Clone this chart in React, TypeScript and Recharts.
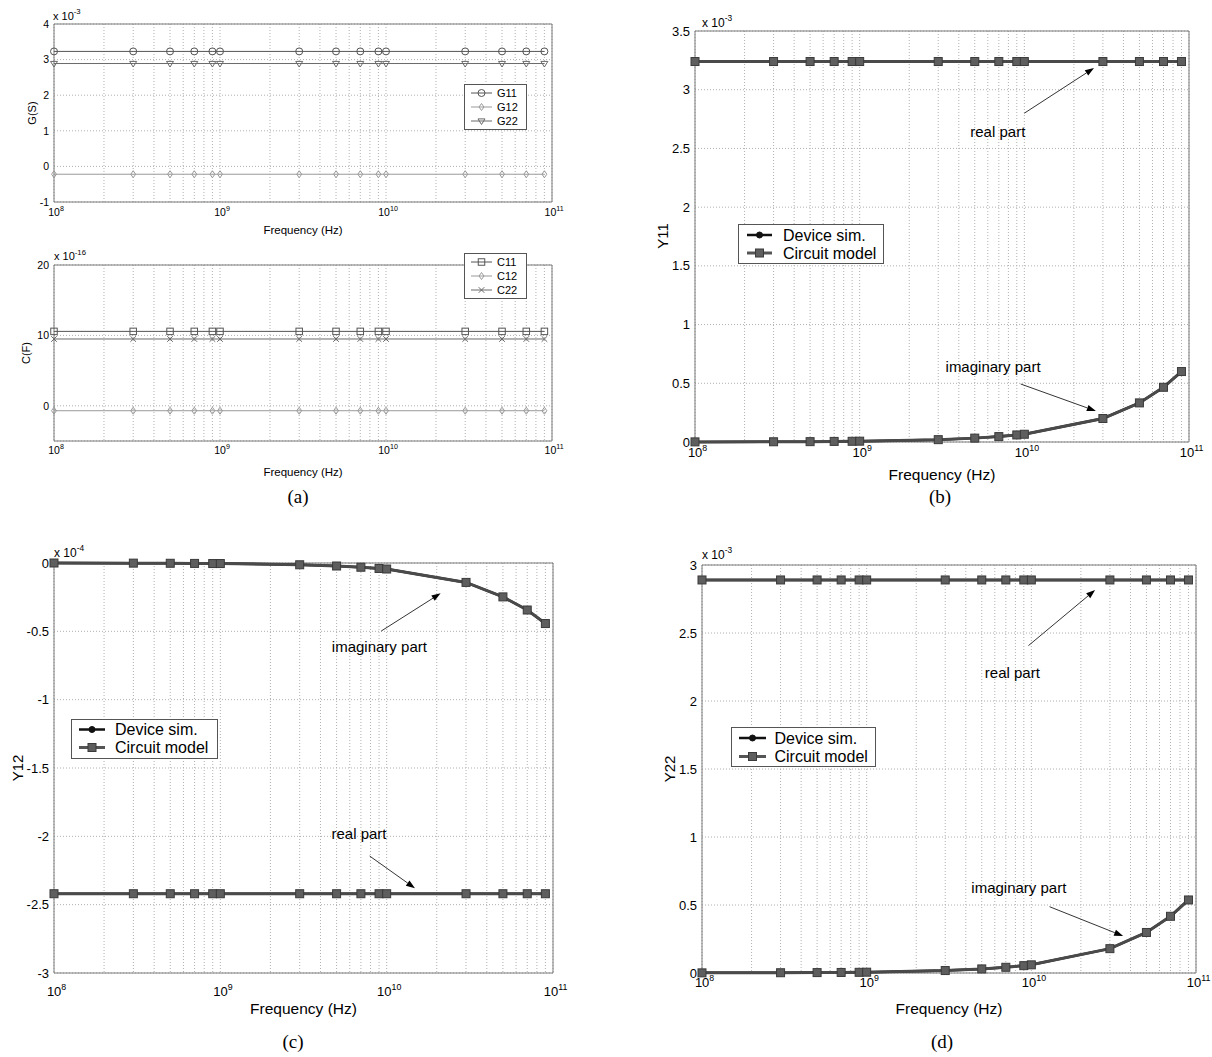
import React from "react"
import {
  LineChart,
  Line,
  XAxis,
  YAxis,
  CartesianGrid,
  ReferenceArea,
  ReferenceLine,
  ReferenceDot,
  Legend,
} from "recharts"

const FONT = "'Liberation Sans', Arial, Helvetica, sans-serif"
const SERIF = "'Liberation Serif', 'Times New Roman', serif"

// sweep frequencies (Hz)
const freqs = [1e8, 3e8, 5e8, 7e8, 9e8, 1e9, 3e9, 5e9, 7e9, 9e9, 1e10, 3e10, 5e10, 7e10, 9e10]

// (a) conductances, x 1e-3 S
const g11 = [3.23, 3.23, 3.23, 3.23, 3.23, 3.23, 3.23, 3.23, 3.23, 3.23, 3.23, 3.23, 3.23, 3.23, 3.23]
const g12 = [-0.22, -0.22, -0.22, -0.22, -0.22, -0.22, -0.22, -0.22, -0.22, -0.22, -0.22, -0.22, -0.22, -0.22, -0.22]
const g22 = [2.89, 2.89, 2.89, 2.89, 2.89, 2.89, 2.89, 2.89, 2.89, 2.89, 2.89, 2.89, 2.89, 2.89, 2.89]

// (a) capacitances, x 1e-16 F
const c11 = [10.57, 10.57, 10.57, 10.57, 10.57, 10.57, 10.57, 10.57, 10.57, 10.57, 10.57, 10.57, 10.57, 10.57, 10.57]
const c12 = [-0.7, -0.7, -0.7, -0.7, -0.7, -0.7, -0.7, -0.7, -0.7, -0.7, -0.7, -0.7, -0.7, -0.7, -0.7]
const c22 = [9.49, 9.49, 9.49, 9.49, 9.49, 9.49, 9.49, 9.49, 9.49, 9.49, 9.49, 9.49, 9.49, 9.49, 9.49]

// (b) Y11, x 1e-3
const y11Re = [3.24, 3.24, 3.24, 3.24, 3.24, 3.24, 3.24, 3.24, 3.24, 3.24, 3.24, 3.24, 3.24, 3.24, 3.24]
const y11Im = [0.001, 0.002, 0.003, 0.005, 0.006, 0.007, 0.02, 0.033, 0.046, 0.06, 0.066, 0.2, 0.333, 0.466, 0.6]

// (c) Y12, x 1e-4
const y12Re = [-2.42, -2.42, -2.42, -2.42, -2.42, -2.42, -2.42, -2.42, -2.42, -2.42, -2.42, -2.42, -2.42, -2.42, -2.42]
const y12Im = [0, -0.001, -0.002, -0.003, -0.004, -0.004, -0.013, -0.022, -0.031, -0.04, -0.044, -0.142, -0.248, -0.344, -0.443]

// (d) Y22, x 1e-3
const y22Re = [2.89, 2.89, 2.89, 2.89, 2.89, 2.89, 2.89, 2.89, 2.89, 2.89, 2.89, 2.89, 2.89, 2.89, 2.89]
const y22Im = [0.001, 0.002, 0.003, 0.004, 0.005, 0.006, 0.018, 0.03, 0.042, 0.054, 0.06, 0.179, 0.298, 0.417, 0.537]

// log axis ticks: 1..9 per decade
const decades = [1e8, 1e9, 1e10]
const mults = [1, 2, 3, 4, 5, 6, 7, 8, 9]
const freqTicks = [...decades.flatMap((d) => mults.map((m) => m * d)), 1e11]

const gTicks = [-1, 0, 1, 2, 3, 4]
const cTicks = [0, 10, 20]
const y11Ticks = [0, 0.5, 1, 1.5, 2, 2.5, 3, 3.5]
const y12Ticks = [-3, -2.5, -2, -1.5, -1, -0.5, 0]
const y22Ticks = [0, 0.5, 1, 1.5, 2, 2.5, 3]

type MarkerKind = "circle" | "diamond" | "triDown" | "square" | "cross"
type MarkerStyle = { kind: MarkerKind; size: number; fill: string; edge: string }

function Marker({ kind, x, y, size, fill, edge }: MarkerStyle & { x: number; y: number }) {
  const s = size / 2
  if (kind === "circle") return <circle cx={x} cy={y} r={s} fill={fill} stroke={edge} />
  if (kind === "square")
    return <rect x={x - s} y={y - s} width={size} height={size} fill={fill} stroke={edge} />
  if (kind === "diamond")
    return (
      <polygon
        points={`${x},${y - s} ${x + s * 0.7},${y} ${x},${y + s} ${x - s * 0.7},${y}`}
        fill={fill}
        stroke={edge}
      />
    )
  if (kind === "triDown")
    return (
      <polygon points={`${x - s},${y - s * 0.6} ${x + s},${y - s * 0.6} ${x},${y + s}`} fill={fill} stroke={edge} />
    )
  const k = s * 0.8
  return (
    <path
      d={`M${x - k},${y - k}L${x + k},${y + k}M${x - k},${y + k}L${x + k},${y - k}`}
      stroke={edge}
      fill="none"
    />
  )
}

const dotOf = (m: MarkerStyle) => (p: any) =>
  p.cx == null ? <g key={`n${p.index}`} /> : <Marker key={`d${p.index}`} {...m} x={p.cx} y={p.cy} />

type LegendItem = { label: string; color: string; width: number; marker: MarkerStyle }
type LegendSpec = {
  x: number
  y: number
  w: number
  h: number
  font: number
  rows: number[]
  icon: [number, number]
  text: number
  items: LegendItem[]
}

function LegendBox({ spec }: { spec: LegendSpec }) {
  const [i0, i1] = spec.icon
  return (
    <svg width={spec.w} height={spec.h} style={{ display: "block" }}>
      <rect x={0.5} y={0.5} width={spec.w - 1} height={spec.h - 1} fill="#fff" stroke="#555" />
      {spec.items.map((it, i) => {
        const cy = spec.rows[i]
        return (
          <g key={it.label}>
            <line x1={i0} x2={i1} y1={cy} y2={cy} stroke={it.color} strokeWidth={it.width} />
            <Marker {...it.marker} x={(i0 + i1) / 2} y={cy} />
            <text x={spec.text} y={cy + spec.font * 0.36} fontSize={spec.font} fontFamily={FONT} fill="#000">
              {it.label}
            </text>
          </g>
        )
      })}
    </svg>
  )
}

type Note = { text: string; tx: number; ty: number; x1: number; y1: number; x2: number; y2: number }

const Arrow = (p: any) => {
  const { x1, y1, x2, y2 } = p
  const a = Math.atan2(y2 - y1, x2 - x1)
  const L = 9
  const W = 3.2
  const bx = x2 - L * Math.cos(a)
  const by = y2 - L * Math.sin(a)
  const px = -Math.sin(a) * W
  const py = Math.cos(a) * W
  return (
    <g>
      <line x1={x1} y1={y1} x2={bx} y2={by} stroke="#000" strokeWidth={0.8} />
      <polygon points={`${x2},${y2} ${bx + px},${by + py} ${bx - px},${by - py}`} fill="#000" />
    </g>
  )
}

function FreqTick(p: any) {
  const { x, y, payload, fontSize, below } = p
  const v = payload.value
  const e = Math.round(Math.log10(v))
  if (Math.abs(v / Math.pow(10, e) - 1) > 1e-6) return <g />
  return (
    <text x={x + fontSize * 0.2} y={y + below} textAnchor="middle" fontSize={fontSize} fontFamily={FONT} fill="#000">
      10
      <tspan dy={-fontSize * 0.45} fontSize={fontSize * 0.68}>
        {e}
      </tspan>
    </text>
  )
}

type Rect = { x: number; y: number; w: number; h: number }
type PlotProps = {
  rect: Rect
  data: any[]
  yDomain: [number, number]
  yTicks: number[]
  tickFont: number
  titleFont: number
  tickBelow: number
  titleBelow: number
  legend: LegendSpec
  notes: Note[]
  children: React.ReactNode
}

const ML = 70
const MT = 20
const MR = 30
const XH = 60

function Plot({ rect, data, yDomain, yTicks, tickFont, titleFont, tickBelow, titleBelow, legend, notes, children }: PlotProps) {
  const left = rect.x - ML
  const top = rect.y - MT
  return (
    <div style={{ position: "absolute", left, top }}>
      <LineChart
        width={rect.w + ML + MR}
        height={rect.h + MT + XH}
        data={data}
        margin={{ top: MT, right: MR, bottom: 0, left: 0 }}
      >
        <CartesianGrid stroke="#b0b0b0" strokeDasharray="1 2" />
        <XAxis
          dataKey="f"
          type="number"
          scale="log"
          domain={[1e8, 1e11]}
          ticks={freqTicks}
          interval={0}
          height={XH}
          axisLine={false}
          tickLine={false}
          tickSize={0}
          tickMargin={0}
          tick={(p: any) => <FreqTick {...p} fontSize={tickFont} below={tickBelow} />}
          label={{
            value: "Frequency (Hz)",
            position: "insideBottom",
            offset: XH - titleBelow,
            fontSize: titleFont,
            fill: "#000",
            fontFamily: FONT,
          }}
        />
        <YAxis
          type="number"
          domain={yDomain}
          ticks={yTicks}
          interval={0}
          width={ML}
          axisLine={false}
          tickLine={false}
          tickSize={0}
          tickMargin={5}
          tick={{ fontSize: tickFont, fill: "#000", fontFamily: FONT }}
        />
        <ReferenceArea x1={1e8} x2={1e11} y1={yDomain[0]} y2={yDomain[1]} fill="none" stroke="#7a7a7a" />
        {children}
        {notes.map((n, i) => (
          <ReferenceLine
            key={`a${i}`}
            segment={[
              { x: n.x1, y: n.y1 },
              { x: n.x2, y: n.y2 },
            ]}
            shape={Arrow}
          />
        ))}
        {notes.map((n, i) => (
          <ReferenceDot
            key={`t${i}`}
            x={n.tx}
            y={n.ty}
            r={0}
            fill="none"
            stroke="none"
            label={{ value: n.text, position: "center", fontSize: 15, fill: "#000", fontFamily: FONT }}
          />
        ))}
        <Legend
          layout="vertical"
          align="center"
          verticalAlign="middle"
          wrapperStyle={{ left: legend.x - left, top: legend.y - top, width: legend.w, height: legend.h }}
          content={() => <LegendBox spec={legend} />}
        />
      </LineChart>
    </div>
  )
}

// marker styles
const gm = (kind: MarkerKind, c: string, size = 7): MarkerStyle => ({ kind, size, fill: "none", edge: c })
const devMarker: MarkerStyle = { kind: "circle", size: 6, fill: "#111", edge: "#111" }
const cirMarker: MarkerStyle = { kind: "square", size: 8, fill: "#5e5e5e", edge: "#3a3a3a" }

const gItems: LegendItem[] = [
  { label: "G11", color: "#555", width: 1, marker: gm("circle", "#555") },
  { label: "G12", color: "#999", width: 1, marker: gm("diamond", "#999") },
  { label: "G22", color: "#6a6a6a", width: 1, marker: gm("triDown", "#6a6a6a") },
]
const cItems: LegendItem[] = [
  { label: "C11", color: "#555", width: 1, marker: gm("square", "#555", 6.5) },
  { label: "C12", color: "#999", width: 1, marker: gm("diamond", "#999") },
  { label: "C22", color: "#6a6a6a", width: 1, marker: gm("cross", "#6a6a6a") },
]
const yItems: LegendItem[] = [
  { label: "Device sim.", color: "#111", width: 2.5, marker: devMarker },
  { label: "Circuit model", color: "#555", width: 3, marker: cirMarker },
]

const gData = freqs.map((f, i) => ({ f, g11: g11[i], g12: g12[i], g22: g22[i] }))
const cData = freqs.map((f, i) => ({ f, c11: c11[i], c12: c12[i], c22: c22[i] }))
// the circuit model overlays the device simulation exactly, so both read the same values
const yData = (re: number[], im: number[]) =>
  freqs.map((f, i) => ({ f, reDev: re[i], imDev: im[i], reCir: re[i], imCir: im[i] }))

const notesB: Note[] = [
  { text: "real part", tx: 6.9e9, ty: 2.64, x1: 1.0e10, y1: 2.8, x2: 2.65e10, y2: 3.185 },
  { text: "imaginary part", tx: 6.46e9, ty: 0.641, x1: 9.5e9, y1: 0.494, x2: 2.72e10, y2: 0.264 },
]
const notesC: Note[] = [
  { text: "imaginary part", tx: 9.04e9, ty: -0.612, x1: 9.27e9, y1: -0.498, x2: 2.11e10, y2: -0.222 },
  { text: "real part", tx: 6.82e9, ty: -1.978, x1: 7.9e9, y1: -2.144, x2: 1.48e10, y2: -2.38 },
]
const notesD: Note[] = [
  { text: "real part", tx: 7.67e9, ty: 2.211, x1: 9.6e9, y1: 2.407, x2: 2.44e10, y2: 2.816 },
  { text: "imaginary part", tx: 8.4e9, ty: 0.627, x1: 1.29e10, y1: 0.4875, x2: 3.61e10, y2: 0.272 },
]

const aLines = (keys: string[], items: LegendItem[]) =>
  keys.map((k, i) => (
    <Line
      key={k}
      dataKey={k}
      type="linear"
      stroke={items[i].color}
      strokeWidth={1}
      dot={dotOf(items[i].marker)}
      activeDot={false}
      isAnimationActive={false}
    />
  ))

const yLines = () => [
  <Line key="reDev" dataKey="reDev" type="linear" stroke="#111" strokeWidth={2.5} dot={dotOf(devMarker)} activeDot={false} isAnimationActive={false} />,
  <Line key="imDev" dataKey="imDev" type="linear" stroke="#111" strokeWidth={2.5} dot={dotOf(devMarker)} activeDot={false} isAnimationActive={false} />,
  <Line key="reCir" dataKey="reCir" type="linear" stroke="#4a4a4a" strokeWidth={3} dot={dotOf(cirMarker)} activeDot={false} isAnimationActive={false} />,
  <Line key="imCir" dataKey="imCir" type="linear" stroke="#4a4a4a" strokeWidth={3} dot={dotOf(cirMarker)} activeDot={false} isAnimationActive={false} />,
]

const ySpec = (x: number, y: number, w: number, h: number, rows: number[], icon: [number, number], text: number): LegendSpec => ({
  x, y, w, h, font: 16, rows, icon, text, items: yItems,
})

function Expo({ x, y, size, exp }: { x: number; y: number; size: number; exp: string }) {
  return (
    <text x={x} y={y} fontSize={size} fontFamily={FONT} fill="#000">
      x 10
      <tspan dy={-size * 0.5} fontSize={size * 0.7}>
        {exp}
      </tspan>
    </text>
  )
}

function VTitle({ x, y, size, text }: { x: number; y: number; size: number; text: string }) {
  return (
    <text
      x={x}
      y={y}
      fontSize={size}
      fontFamily={FONT}
      fill="#000"
      textAnchor="middle"
      dominantBaseline="central"
      transform={`rotate(-90 ${x} ${y})`}
    >
      {text}
    </text>
  )
}

export default function App() {
  return (
    <div style={{ position: "absolute", left: 0, top: 0, width: 1212, height: 1057, background: "#fff" }}>
      <Plot
        rect={{ x: 54, y: 24, w: 498, h: 178 }}
        data={gData}
        yDomain={[-1, 4]}
        yTicks={gTicks}
        tickFont={10.5}
        titleFont={11.5}
        tickBelow={14}
        titleBelow={32}
        legend={{ x: 464, y: 84, w: 63, h: 46, font: 11, rows: [9, 23, 37], icon: [7, 28], text: 33, items: gItems }}
        notes={[]}
      >
        {aLines(["g11", "g12", "g22"], gItems)}
      </Plot>
      <Plot
        rect={{ x: 54, y: 265, w: 498, h: 176 }}
        data={cData}
        yDomain={[-5, 20]}
        yTicks={cTicks}
        tickFont={10.5}
        titleFont={11.5}
        tickBelow={13}
        titleBelow={35}
        legend={{ x: 464, y: 253, w: 63, h: 46, font: 11, rows: [9, 23, 37], icon: [7, 28], text: 33, items: cItems }}
        notes={[]}
      >
        {aLines(["c11", "c12", "c22"], cItems)}
      </Plot>
      <Plot
        rect={{ x: 695, y: 31, w: 494, h: 411 }}
        data={yData(y11Re, y11Im)}
        yDomain={[0, 3.5]}
        yTicks={y11Ticks}
        tickFont={13}
        titleFont={15.5}
        tickBelow={15}
        titleBelow={38}
        legend={ySpec(738, 224, 146, 40, [11, 29], [9, 34], 45)}
        notes={notesB}
      >
        {yLines()}
      </Plot>
      <Plot
        rect={{ x: 54, y: 563, w: 499, h: 410 }}
        data={yData(y12Re, y12Im)}
        yDomain={[-3, 0]}
        yTicks={y12Ticks}
        tickFont={13}
        titleFont={15.5}
        tickBelow={23}
        titleBelow={41}
        legend={ySpec(71, 719, 147, 40, [10.5, 28.5], [8, 34], 44)}
        notes={notesC}
      >
        {yLines()}
      </Plot>
      <Plot
        rect={{ x: 702, y: 565, w: 494, h: 408 }}
        data={yData(y22Re, y22Im)}
        yDomain={[0, 3]}
        yTicks={y22Ticks}
        tickFont={13}
        titleFont={15.5}
        tickBelow={14}
        titleBelow={41}
        legend={ySpec(731, 727, 145, 40, [11, 29.5], [8, 35], 43.5)}
        notes={notesD}
      >
        {yLines()}
      </Plot>

      <svg width={1212} height={1057} style={{ position: "absolute", left: 0, top: 0, pointerEvents: "none" }}>
        <Expo x={53} y={19.5} size={11} exp="-3" />
        <Expo x={54} y={260} size={11} exp="-16" />
        <Expo x={702} y={26.5} size={12} exp="-3" />
        <Expo x={54} y={557} size={12} exp="-4" />
        <Expo x={702} y={559} size={12} exp="-3" />

        <VTitle x={32} y={113} size={11} text="G(S)" />
        <VTitle x={26} y={353} size={11} text="C(F)" />
        <VTitle x={662} y={236} size={15} text="Y11" />
        <VTitle x={17} y={768} size={15} text="Y12" />
        <VTitle x={669} y={769} size={15} text="Y22" />

        <text x={298} y={503} fontSize={19} fontFamily={SERIF} textAnchor="middle" fill="#000">(a)</text>
        <text x={940} y={503} fontSize={19} fontFamily={SERIF} textAnchor="middle" fill="#000">(b)</text>
        <text x={293} y={1048} fontSize={19} fontFamily={SERIF} textAnchor="middle" fill="#000">(c)</text>
        <text x={942} y={1048} fontSize={19} fontFamily={SERIF} textAnchor="middle" fill="#000">(d)</text>
      </svg>
    </div>
  )
}
